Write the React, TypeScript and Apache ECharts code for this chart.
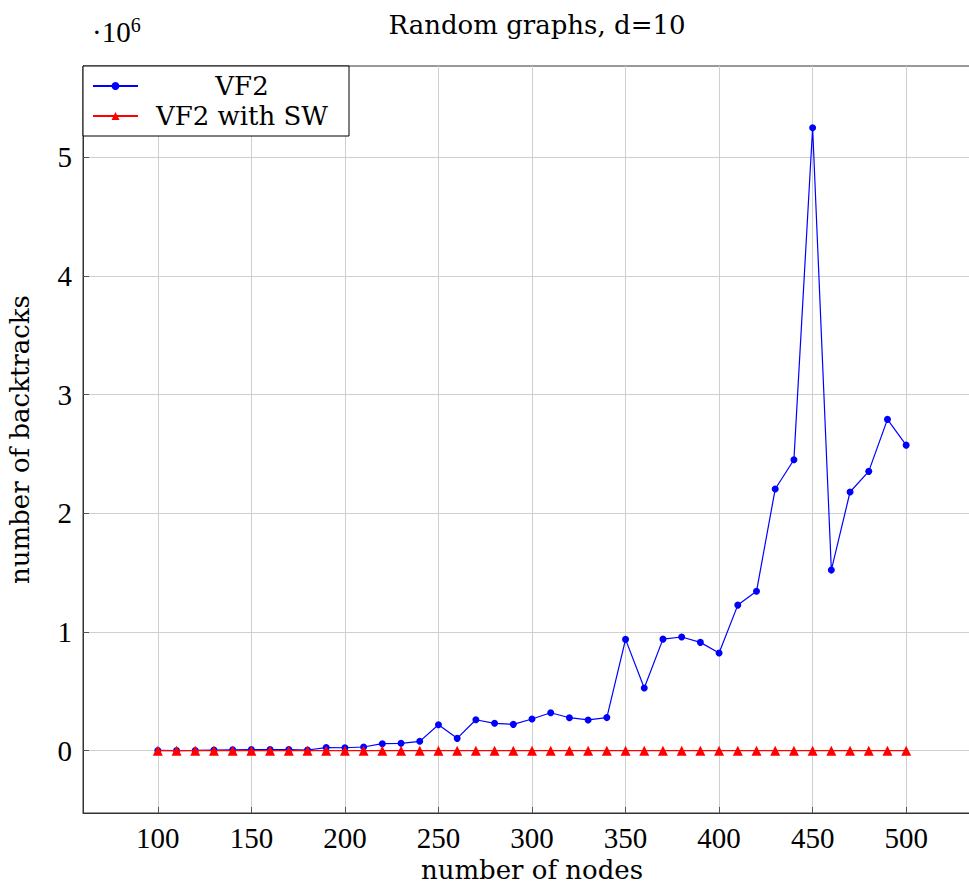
import React, { useEffect, useRef } from "react";
import * as echarts from "echarts";

const nodes = [100, 110, 120, 130, 140, 150, 160, 170, 180, 190, 200, 210, 220, 230, 240, 250, 260, 270, 280, 290, 300, 310, 320, 330, 340, 350, 360, 370, 380, 390, 400, 410, 420, 430, 440, 450, 460, 470, 480, 490, 500];
// values in units of 10^6
const vf2 = [0.002, 0.001, 0.002, 0.005, 0.008, 0.009, 0.010, 0.010, 0.006, 0.026, 0.025, 0.031, 0.059, 0.062, 0.079, 0.219, 0.104, 0.261, 0.231, 0.222, 0.267, 0.320, 0.278, 0.259, 0.279, 0.938, 0.528, 0.940, 0.958, 0.913, 0.823, 1.227, 1.343, 2.205, 2.452, 5.250, 1.522, 2.180, 2.354, 2.792, 2.575];
const vf2sw = [0.0, 0.0, 0.0, 0.0, 0.0, 0.0, 0.0, 0.0, 0.0, 0.0, 0.0, 0.0, 0.0, 0.0, 0.0, 0.0, 0.0, 0.0, 0.0, 0.0, 0.0, 0.0, 0.0, 0.0, 0.0, 0.0, 0.0, 0.0, 0.0, 0.0, 0.0, 0.0, 0.0, 0.0, 0.0, 0.0, 0.0, 0.0, 0.0, 0.0, 0.0];
const xTicks = [100, 150, 200, 250, 300, 350, 400, 450, 500];
const yTicks = [0, 1, 2, 3, 4, 5];

const NUM_FONT = "Liberation Serif";
const WORD_FONT = "DejaVu Serif";

export default function App() {
  const ref = useRef<HTMLDivElement>(null);
  useEffect(() => {
    if (!ref.current) return;
    const chart = echarts.init(ref.current, null, { renderer: "svg" });
    const gridColor = "#cfcfcf";
    const axisColor = "#555";
    chart.setOption({
      animation: false,
      backgroundColor: "#ffffff",
      textStyle: { fontFamily: NUM_FONT },
      title: {
        text: "Random graphs, d=10",
        left: 532,
        top: 7,
        textAlign: "center",
        textStyle: { fontFamily: WORD_FONT, fontSize: 26, fontWeight: "normal", color: "#000" },
      },
      graphic: [
        {
          type: "text",
          left: 92,
          top: 15,
          style: {
            text: "·10{s|6}",
            fontFamily: NUM_FONT,
            fontSize: 29,
            fill: "#000",
            rich: { s: { fontSize: 20, verticalAlign: "top", fontFamily: NUM_FONT, fill: "#000", padding: [0, 0, 14, 0] } },
          },
        },
      ],
      legend: {
        left: 83,
        top: 66,
        orient: "vertical",
        backgroundColor: "#fff",
        borderColor: "#000",
        borderWidth: 1,
        padding: [7, 8, 7, 9],
        itemGap: 4,
        itemWidth: 45,
        itemHeight: 10,
        textStyle: {
          fontFamily: WORD_FONT,
          fontSize: 26,
          color: "#000",
          rich: { c: { width: 198, lineHeight: 33, align: "center", fontFamily: WORD_FONT, fontSize: 26, color: "#000" } },
        },
        formatter: (name: string) => "{c|" + name + "}",
        data: ["VF2", "VF2 with SW"],
      },
      grid: {
        left: 83,
        top: 66,
        width: 898,
        height: 747,
        outerBoundsMode: "none",
        containLabel: false,
        show: true,
        borderColor: "#333",
        borderWidth: 1,
      },
      xAxis: {
        type: "value",
        min: 60,
        max: 540,
        name: "number of nodes",
        nameLocation: "middle",
        nameGap: 40,
        nameTextStyle: { fontFamily: WORD_FONT, fontSize: 26, color: "#000" },
        axisLine: { show: true, onZero: false, lineStyle: { color: "#333", width: 1 } },
        axisTick: { show: true, inside: true, length: 6, customValues: xTicks, lineStyle: { color: axisColor } },
        axisLabel: { customValues: xTicks, margin: 10, fontFamily: NUM_FONT, fontSize: 29, color: "#000" },
        splitLine: { show: true, lineStyle: { color: gridColor, width: 1 } },
      },
      yAxis: {
        type: "value",
        min: -0.525,
        max: 5.77,
        name: "number of backtracks",
        nameLocation: "middle",
        nameGap: 50,
        nameTextStyle: { fontFamily: WORD_FONT, fontSize: 26, color: "#000" },
        axisLine: { show: true, onZero: false, lineStyle: { color: "#333", width: 1 } },
        axisTick: { show: true, inside: true, length: 6, customValues: yTicks, lineStyle: { color: axisColor } },
        axisLabel: { customValues: yTicks, margin: 11, fontFamily: NUM_FONT, fontSize: 29, color: "#000" },
        splitLine: { show: true, lineStyle: { color: gridColor, width: 1 } },
      },
      series: [
        {
          name: "VF2",
          type: "line",
          data: nodes.map((x, i) => [x, vf2[i]]),
          symbol: "circle",
          symbolSize: 7,
          lineStyle: { color: "#0000ff", width: 1.2 },
          itemStyle: { color: "#0000ff" },
          z: 3,
        },
        {
          name: "VF2 with SW",
          type: "line",
          data: nodes.map((x, i) => [x, vf2sw[i]]),
          symbol: "triangle",
          symbolSize: 10,
          lineStyle: { color: "#ff0000", width: 1.2 },
          itemStyle: { color: "#ff0000" },
          z: 4,
        },
      ],
    });
    return () => chart.dispose();
  }, []);
  return (
    <div
      ref={ref}
      style={{ position: "absolute", left: 0, top: 0, width: 969, height: 896 }}
    />
  );
}
